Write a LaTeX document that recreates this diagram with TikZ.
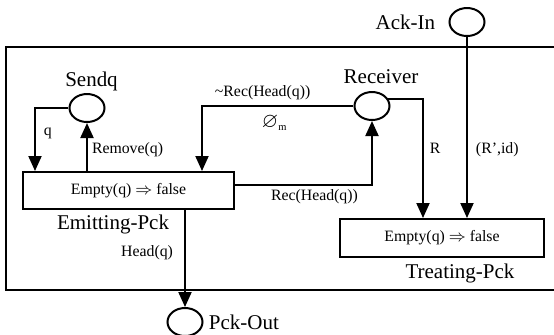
\documentclass[tikz,border=0pt]{standalone}
\usepackage{amssymb}
\usepackage{fontspec}
\setmainfont{Liberation Serif}
\usetikzlibrary{arrows.meta,positioning,shapes.geometric,calc}
\tikzset{
  place/.style={ellipse,draw,line width=1pt,minimum width=17.5pt,minimum height=14pt,inner sep=0pt},
  trans/.style={rectangle,draw,line width=1pt,font=\fontsize{7.9}{9}\selectfont,inner sep=0pt},
  biglbl/.style={inner sep=0pt,font=\fontsize{10.5}{12}\selectfont},
  lbl/.style={inner sep=0pt,font=\fontsize{7.9}{9}\selectfont},
  ar/.style={-{Triangle[length=7.5pt,width=6.5pt]},line width=1pt},
  frame/.style={line width=1pt},
}

\begin{document}
\begin{tikzpicture}[x=0.5pt,y=-0.5pt]
  \useasboundingbox (0,0) rectangle (554,334);
  \draw[frame] (6,47) rectangle (560,290);
  % places
  \node[place] (send) at (87,108) {};
  \node[place] (rcv) at (372,106) {};
  \node[place] (ack) at (467,22) {};
  \node[place] (out) at (185,322) {};
  % transitions
  \node[trans,minimum width=105.5pt,minimum height=18.5pt] (emit) at (128.5,190.5) {Empty(q) $\Rightarrow$ false};
  \node[trans,minimum width=102pt,minimum height=19pt] (treat) at (442,238) {Empty(q) $\Rightarrow$ false};
  % names
  \node[biglbl,above=1pt of send,xshift=2.25pt] (sendl) {Sendq};
  \node[biglbl,above=3.5pt of rcv,xshift=4.5pt] (rcvl) {Receiver};
  \node[biglbl,left=6.5pt of ack] (ackl) {Ack-In};
  \node[biglbl,right=2.5pt of out] (outl) {Pck-Out};
  \node[biglbl,below=2.25pt of emit,xshift=-7.75pt] (emitl) {Emitting-Pck};
  \node[biglbl,below=2.75pt of treat,xshift=9pt] (treatl) {Treating-Pck};
  % arcs
  \coordinate (qin) at ($(emit.north west)+(13,0)$);
  \coordinate (nrecin) at ($(emit.north east)+(-33,0)$);
  \coordinate (recout) at ($(emit.east)+(0,-6)$);
  \coordinate (rin) at ($(treat.north)+(-19,0)$);
  \draw[ar] (send.west) -| node[lbl,right=4pt,pos=0.7]{q} (qin);
  \draw[ar] (emit.north -| send.south) -- node[lbl,right=2pt,pos=0.44]{Remove(q)} (send.south);
  \draw[ar] (rcv.west) -| node[lbl,above=2.75pt,pos=0.3]{\textasciitilde Rec(Head(q))}
    node[biglbl,below=4pt,pos=0.26]{$\varnothing_{\scriptscriptstyle\mathrm{m}}$} (nrecin);
  \draw[ar] (recout) -| node[lbl,below=2pt,pos=0.29]{Rec(Head(q))} (rcv.south);
  \draw[ar] (rcv.25) -| node[lbl,right=3pt,pos=0.71]{R} (rin);
  \draw[ar] (ack.south) -- node[lbl,right=4pt,pos=0.62]{(R',id)} (ack.south |- treat.north);
  \draw[ar] (emit.south -| out.north) -- node[lbl,left=5.5pt,pos=0.44]{Head(q)} (out.north);
\end{tikzpicture}
\end{document}
